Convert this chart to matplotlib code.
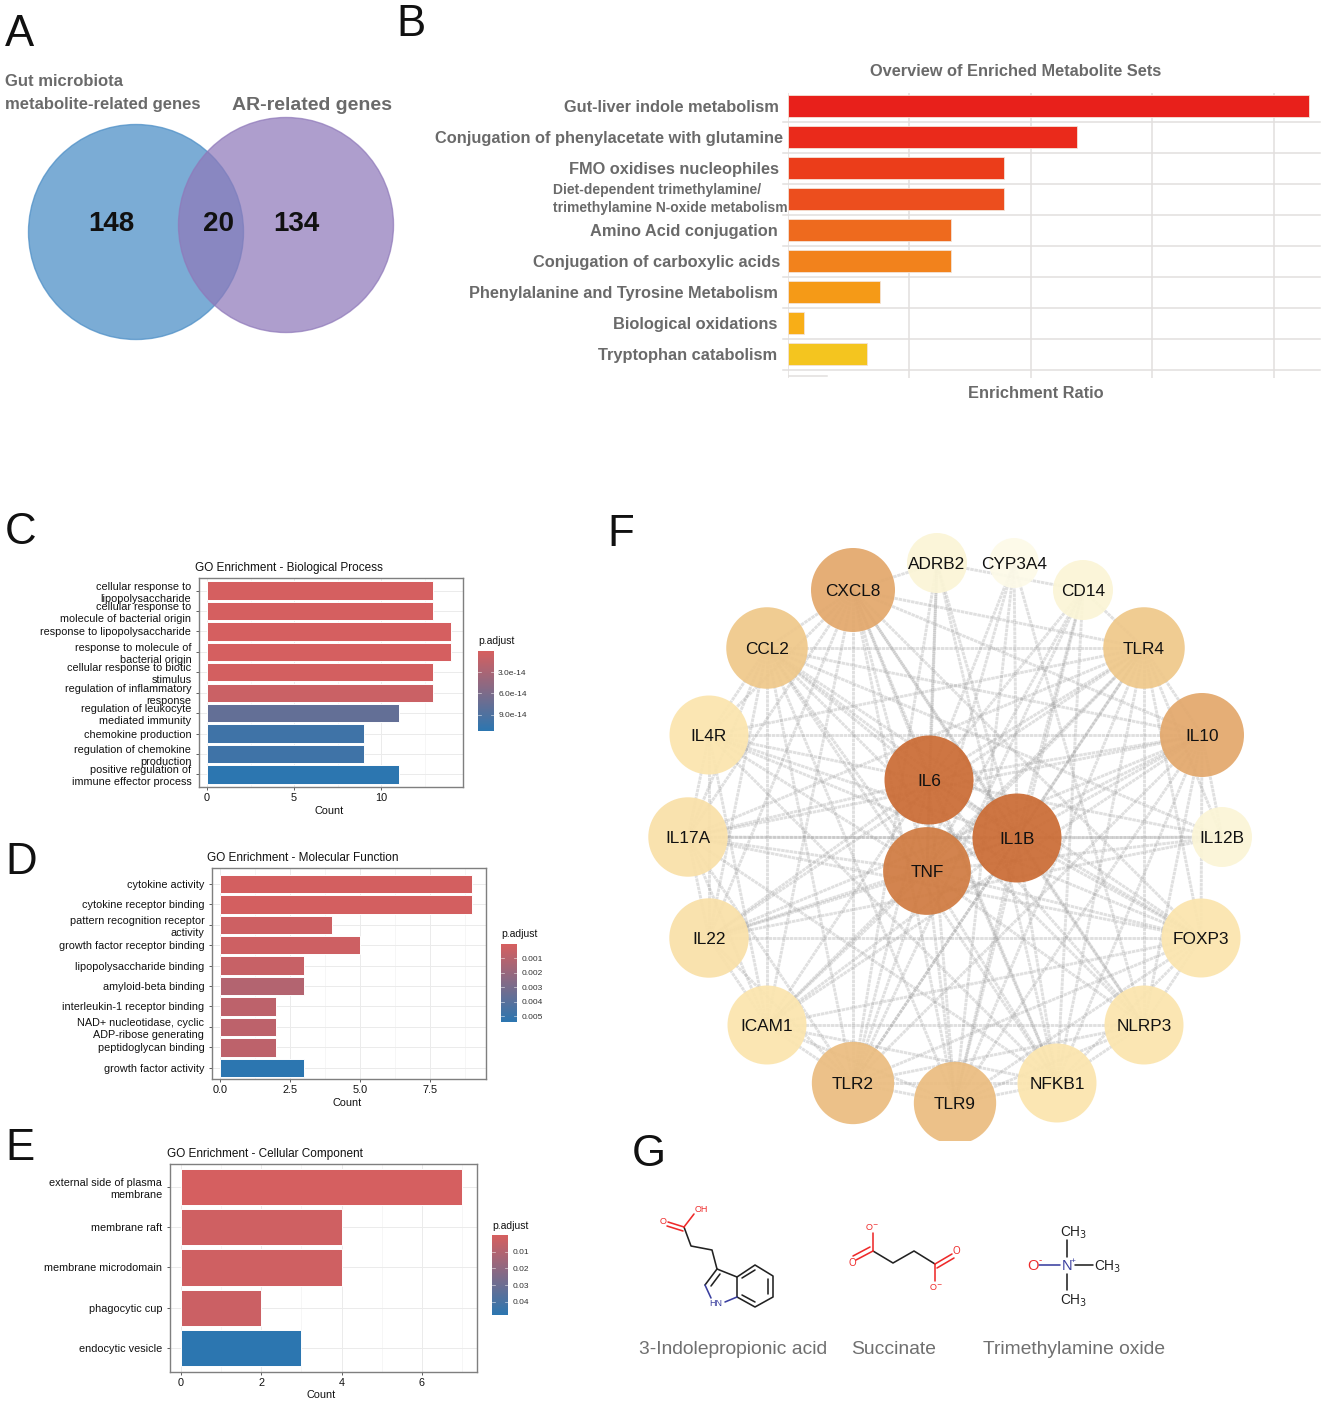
import numpy as np
import matplotlib
matplotlib.use('Agg')
import matplotlib.pyplot as plt
from matplotlib.patches import Circle
from matplotlib.collections import LineCollection
from matplotlib.colors import LinearSegmentedColormap, Normalize
from matplotlib.cm import ScalarMappable

plt.rcParams['font.family'] = ['Liberation Sans', 'DejaVu Sans']

W, H = 1325, 1404

# panel B
msea_sets = ['Gut-liver indole metabolism', 'Conjugation of phenylacetate with glutamine',
             'FMO oxidises nucleophiles',
             'Diet-dependent trimethylamine/\ntrimethylamine N-oxide metabolism',
             'Amino Acid conjugation', 'Conjugation of carboxylic acids',
             'Phenylalanine and Tyrosine Metabolism', 'Biological oxidations',
             'Tryptophan catabolism']
msea_ratio = [42.9, 23.8, 17.8, 17.8, 13.4, 13.4, 7.6, 1.3, 6.5]
msea_colors = ['#E8201B', '#EA2A1B', '#EB3D1A', '#EC4E1E', '#EE6A1E',
               '#F2821C', '#F59A17', '#F8AE17', '#F4C51F']

# panel C
bp_terms = ['cellular response to\nlipopolysaccharide', 'cellular response to\nmolecule of bacterial origin',
            'response to lipopolysaccharide', 'response to molecule of\nbacterial origin',
            'cellular response to biotic\nstimulus', 'regulation of inflammatory\nresponse',
            'regulation of leukocyte\nmediated immunity', 'chemokine production',
            'regulation of chemokine\nproduction', 'positive regulation of\nimmune effector process']
bp_count = [13, 13, 14, 14, 13, 13, 11, 9, 9, 11]
bp_padj = [1e-15, 1e-15, 1e-15, 1e-15, 2e-15, 8e-15, 7.6e-14, 1.0e-13, 1.0e-13, 1.13e-13]

# panel D
mf_terms = ['cytokine activity', 'cytokine receptor binding', 'pattern recognition receptor\nactivity',
            'growth factor receptor binding', 'lipopolysaccharide binding', 'amyloid-beta binding',
            'interleukin-1 receptor binding', 'NAD+ nucleotidase, cyclic\nADP-ribose generating',
            'peptidoglycan binding', 'growth factor activity']
mf_count = [9, 9, 4, 5, 3, 3, 2, 2, 2, 3]
mf_padj = [1e-4, 1e-4, 3e-4, 3e-4, 5e-4, 1.1e-3, 8e-4, 8e-4, 8e-4, 5.4e-3]

# panel E
cc_terms = ['external side of plasma\nmembrane', 'membrane raft', 'membrane microdomain',
            'phagocytic cup', 'endocytic vesicle']
cc_count = [7, 4, 4, 2, 3]
cc_padj = [5e-4, 2e-3, 2e-3, 3e-3, 4.8e-2]

# panel F
genes = ['ADRB2', 'CYP3A4', 'CD14', 'TLR4', 'IL10', 'IL12B', 'FOXP3', 'NLRP3', 'NFKB1', 'TLR9',
         'TLR2', 'ICAM1', 'IL22', 'IL17A', 'IL4R', 'CCL2', 'CXCL8', 'IL6', 'IL1B', 'TNF']
gene_score = [4, 3, 4, 12, 15, 4, 9, 9, 9, 13, 13, 9, 9.5, 9.5, 9, 12, 15, 19, 19, 18]
gene_links = {
    'IL6': ['IL1B', 'TNF', 'CXCL8', 'CCL2', 'IL4R', 'IL17A', 'IL22', 'ICAM1', 'TLR2', 'TLR9', 'NFKB1',
            'NLRP3', 'FOXP3', 'IL12B', 'IL10', 'TLR4', 'CD14', 'ADRB2', 'CYP3A4'],
    'IL1B': ['TNF', 'CXCL8', 'CCL2', 'IL4R', 'IL17A', 'IL22', 'ICAM1', 'TLR2', 'TLR9', 'NFKB1',
             'NLRP3', 'FOXP3', 'IL12B', 'IL10', 'TLR4', 'CD14', 'ADRB2', 'CYP3A4'],
    'TNF': ['CXCL8', 'CCL2', 'IL4R', 'IL17A', 'IL22', 'ICAM1', 'TLR2', 'TLR9', 'NFKB1',
            'NLRP3', 'FOXP3', 'IL12B', 'IL10', 'TLR4', 'CD14', 'ADRB2', 'CYP3A4'],
    'CXCL8': ['CCL2', 'IL4R', 'IL17A', 'IL22', 'ICAM1', 'TLR2', 'TLR9', 'NFKB1', 'NLRP3', 'IL10', 'TLR4',
              'FOXP3', 'ADRB2'],
    'CCL2': ['IL4R', 'IL17A', 'IL22', 'ICAM1', 'TLR2', 'TLR9', 'NFKB1', 'NLRP3', 'FOXP3', 'IL10', 'TLR4',
             'IL12B'],
    'TLR4': ['CD14', 'IL10', 'IL12B', 'FOXP3', 'NLRP3', 'NFKB1', 'TLR9', 'TLR2', 'ICAM1', 'IL22', 'IL17A',
             'IL4R'],
    'IL10': ['IL12B', 'FOXP3', 'NLRP3', 'NFKB1', 'TLR9', 'TLR2', 'ICAM1', 'IL22', 'IL17A', 'IL4R'],
    'IL4R': ['IL17A', 'IL22', 'ICAM1', 'FOXP3', 'NFKB1'],
    'IL17A': ['IL22', 'ICAM1', 'TLR2', 'IL12B', 'FOXP3', 'NFKB1'],
    'IL22': ['ICAM1', 'FOXP3', 'IL12B', 'TLR2'],
    'ICAM1': ['TLR2', 'NLRP3', 'NFKB1', 'TLR9', 'FOXP3'],
    'TLR2': ['TLR9', 'NFKB1', 'NLRP3', 'CD14', 'FOXP3', 'ADRB2'],
    'TLR9': ['NFKB1', 'NLRP3', 'FOXP3', 'CD14', 'CYP3A4'],
    'NFKB1': ['NLRP3', 'FOXP3', 'CD14'],
    'NLRP3': ['FOXP3'],
    'ADRB2': ['CD14', 'NFKB1'],
    'CYP3A4': ['NLRP3'],
}

metabolites = ['3-Indolepropionic acid', 'Succinate', 'Trimethylamine oxide']


def px_axes(left, top, right, bottom, **kw):
    # axes placed by pixel edges of the figure
    return fig.add_axes([left / W, 1 - bottom / H, (right - left) / W, (bottom - top) / H], **kw)


fig = plt.figure(figsize=(W / 100, H / 100), dpi=100)

# background canvas in pixel coords for labels, venn and structures
canvas = px_axes(0, 0, W, H)
canvas.set_xlim(0, W)
canvas.set_ylim(H, 0)
canvas.axis('off')

for letter, x, y in [('A', 5, 34), ('B', 396, 24), ('C', 5, 533), ('D', 5, 862), ('E', 5, 1149),
                     ('F', 607, 534), ('G', 632, 1154)]:
    canvas.text(x, y, letter, fontsize=31.5, color='#111111', va='center', ha='left')

# panel A
canvas.add_patch(Circle((136, 232), 107.5, fc='#4F90C7', ec='#4F90C7', alpha=0.75, lw=1))
canvas.add_patch(Circle((286, 225), 107.5, fc='#8F79BA', ec='#8F79BA', alpha=0.72, lw=1))
GRAY = '#6a6a6a'
canvas.text(5, 81, 'Gut microbiota', fontsize=12, fontweight='bold', color=GRAY, va='center')
canvas.text(5, 105, 'metabolite-related genes', fontsize=12, fontweight='bold', color=GRAY, va='center')
canvas.text(232, 105, 'AR-related genes', fontsize=14, fontweight='bold', color=GRAY, va='center')
for txt, x in [('148', 111), ('20', 218), ('134', 296)]:
    canvas.text(x, 224, txt, fontsize=20, fontweight='bold', color='#111111', ha='center', va='center')

# panel B
axb = px_axes(788, 93, 1320, 378)
pos = np.arange(len(msea_sets))
axb.barh(pos, msea_ratio, height=0.68, color=msea_colors, edgecolor='#f3e3d8', lw=0.6, zorder=3)
axb.set_xlim(0, 43.8)
axb.set_ylim(8 + 24 / 31.0, -13 / 31.0)
axb.set_xticks([10, 20, 30, 40])
axb.set_yticks([])
axb.set_xticklabels([])
axb.tick_params(length=0)
for s in axb.spines.values():
    s.set_visible(False)
axb.grid(axis='x', color='#e2dfde', lw=1.1, zorder=0)
axb.axvline(0, color='#e2dfde', lw=1.1, zorder=0)
for i in pos:
    axb.plot([-0.4, 43.8], [i + 0.5, i + 0.5], color='#e2dfde', lw=1.1, zorder=1, clip_on=False)
axb.plot([0, 3.2], [8.72, 8.72], color='#e2dfde', lw=1.1)
gaps = [9, 5, 9, None, 10, 8, 10, 11, 11]
for i, (name, gap) in enumerate(zip(msea_sets, gaps)):
    if gap is None:
        axb.annotate(name, (0, i), xytext=(-235 * 0.72, 0), textcoords='offset points', ha='left',
                     va='center', fontsize=10, fontweight='bold', color=GRAY, linespacing=1.45,
                     annotation_clip=False)
    else:
        axb.annotate(name, (0, i), xytext=(-gap * 0.72, -1), textcoords='offset points', ha='right',
                     va='center', fontsize=11.75, fontweight='bold', color=GRAY, annotation_clip=False)
canvas.text(1016, 71, 'Overview of Enriched Metabolite Sets', fontsize=11.75, fontweight='bold', color=GRAY,
            ha='center', va='center')
canvas.text(1036, 393, 'Enrichment Ratio', fontsize=11.75, fontweight='bold', color=GRAY, ha='center', va='center')

# panels C, D, E
padj_cmap = LinearSegmentedColormap.from_list('padj', ['#D65F5F', '#2C76B0'])


def go_panel(box, terms, count, padj, title, title_x, xlim, xticks, xticklabels, minor, height, ylim,
             cbox, norm, cticks, cticklabels, legend_xy, xlabel_y):
    ax = px_axes(*box)
    y = np.arange(len(terms))
    ax.barh(y, count, height=height, color=padj_cmap(norm(padj)), edgecolor='white', lw=0.7, zorder=3)
    ax.set_yticks(y)
    ax.set_yticklabels(terms, fontsize=7.85, linespacing=1.25, color='#111111')
    ax.set_xticks(xticks)
    ax.set_xticklabels(xticklabels, fontsize=7.85, color='#111111')
    ax.set_xticks(minor, minor=True)
    ax.set_xlim(*xlim)
    ax.set_ylim(*ylim)
    ax.tick_params(axis='y', length=2, width=0.6, pad=3.5, color='#444444')
    ax.tick_params(axis='x', length=2, width=0.6, pad=2, color='#444444')
    ax.tick_params(axis='x', which='minor', length=0)
    ax.grid(True, which='major', color='#ebebeb', lw=0.7, zorder=0)
    ax.grid(True, which='minor', axis='x', color='#f3f3f3', lw=0.5, zorder=0)
    for s in ax.spines.values():
        s.set_color('#7f7f7f')
        s.set_linewidth(1.0)
    canvas.text(title_x, box[1] - 10, title, fontsize=8.5, color='#111111', ha='left', va='center')
    canvas.text((box[0] + box[2]) / 2 - 2, xlabel_y + 1, 'Count', fontsize=7.85, color='#111111', ha='center', va='center')
    # colourbar
    cax = px_axes(*cbox)
    cb = fig.colorbar(ScalarMappable(norm=norm, cmap=padj_cmap), cax=cax)
    cb.set_ticks(cticks)
    cb.set_ticklabels(cticklabels)
    cb.ax.invert_yaxis()
    cb.ax.tick_params(labelsize=6, length=0, pad=3, labelcolor='#333333')
    cb.outline.set_visible(False)
    for t in cticks:
        cb.ax.plot([0, 0.2], [t, t], color='white', lw=0.5, alpha=0.7, transform=cb.ax.get_yaxis_transform())
        cb.ax.plot([0.8, 1], [t, t], color='white', lw=0.5, alpha=0.7, transform=cb.ax.get_yaxis_transform())
    canvas.text(legend_xy[0], legend_xy[1], 'p.adjust', fontsize=7.5, color='#111111', ha='left', va='center')


go_panel((199, 578, 463, 787), bp_terms, bp_count, bp_padj, 'GO Enrichment - Biological Process', 195,
         (-0.46, 14.7), [0, 5, 10], ['0', '5', '10'], [2.5, 7.5, 12.5], 0.9, (9.62, -0.62),
         (478, 651, 494, 731), Normalize(0, 1.13e-13), [3e-14, 6e-14, 9e-14], ['3.0e-14', '6.0e-14', '9.0e-14'],
         (478, 641), 810)
go_panel((212, 868, 486, 1079), mf_terms, mf_count, mf_padj, 'GO Enrichment - Molecular Function', 207,
         (-0.28, 9.5), [0, 2.5, 5, 7.5], ['0.0', '2.5', '5.0', '7.5'], [1.25, 3.75, 6.25, 8.75], 0.9, (9.55, -0.78),
         (501, 944, 517, 1022), Normalize(0, 5.4e-3), [0.001, 0.002, 0.003, 0.004, 0.005],
         ['0.001', '0.002', '0.003', '0.004', '0.005'], (501, 934), 1102)
go_panel((170, 1164, 477, 1372), cc_terms, cc_count, cc_padj, 'GO Enrichment - Cellular Component', 167,
         (-0.27, 7.37), [0, 2, 4, 6], ['0', '2', '4', '6'], [1, 3, 5, 7], 0.9, (4.6, -0.57),
         (492, 1235, 508, 1315), Normalize(0, 4.8e-2), [0.01, 0.02, 0.03, 0.04],
         ['0.01', '0.02', '0.03', '0.04'], (492, 1226), 1394)

# panel F, node layout in pixel coords
net_x = [937, 1014, 1083, 1144, 1202, 1222, 1201, 1144, 1057, 955, 853, 767, 709, 688, 709, 767, 853, 929, 1017, 927]
net_y = [563, 563, 590, 648, 735, 837, 938, 1025, 1083, 1103, 1083, 1025, 938, 837, 735, 648, 590, 780, 838, 871]
where = {g: (x, y) for g, x, y in zip(genes, net_x, net_y)}

axf = px_axes(640, 525, 1265, 1141)
axf.set_xlim(640, 1265)
axf.set_ylim(1141, 525)
axf.axis('off')
segs = [(where[a], where[b]) for a, others in gene_links.items() for b in others]
axf.add_collection(LineCollection(segs, colors='#9a9a9a', linewidths=2.1, alpha=0.3,
                                  linestyles=[(0, (1.2, 0.25))], zorder=1))
node_cmap = LinearSegmentedColormap.from_list('nodes', [(0, '#FDFAE8'), (1 / 16, '#FBF5D6'), (6 / 16, '#FBE5AE'),
                                                        (9 / 16, '#EFC88A'), (12 / 16, '#E3A96D'),
                                                        (15 / 16, '#D07C42'), (1, '#CB6C35')])
for g, s in zip(genes, gene_score):
    r = np.interp(s, [3, 4, 9, 15, 19], [25, 30, 39.5, 42, 44.5])
    axf.add_patch(Circle(where[g], r, fc=node_cmap((s - 3) / 16), ec='none', alpha=0.93, zorder=2))
    axf.text(where[g][0], where[g][1] + 1.5, g, fontsize=12.4, color='#111111', ha='center', va='center', zorder=3)

# panel G, structures drawn as plain line work
INK, RED, BLUE = '#222222', '#EE2A2A', '#3A3F9F'


def bonds(points, color=INK, lw=1.15):
    canvas.plot(*zip(*points), color=color, lw=lw, solid_capstyle='round')


bonds([(684, 1227), (691, 1246), (712, 1250), (717, 1269), (737, 1277), (737, 1297)])
bonds([(737, 1277), (755, 1265), (773, 1276), (773, 1297), (755, 1307), (737, 1297)])
bonds([(717, 1269), (705, 1285)])
bonds([(720, 1274), (711, 1286)])
bonds([(742, 1278), (755, 1270)])
bonds([(768, 1279), (768, 1294)])
bonds([(755, 1302), (742, 1295)])
bonds([(737, 1297), (725, 1302)], BLUE)
bonds([(705, 1285), (711, 1298)], BLUE)
bonds([(684, 1227), (668, 1222)], RED)
bonds([(683, 1231), (667, 1226)], RED)
bonds([(684, 1227), (694, 1214)], RED)
canvas.text(663, 1221, 'O', fontsize=6.5, color=RED, ha='center', va='center')
canvas.text(701, 1209.5, 'OH', fontsize=6.5, color=RED, ha='center', va='center')
canvas.text(716, 1303.5, 'HN', fontsize=6.5, color=BLUE, ha='center', va='center')

bonds([(873, 1251), (893, 1263), (914, 1251), (935, 1264)])
bonds([(873, 1233), (873, 1251)], RED)
bonds([(873, 1251), (856, 1260)], RED)
bonds([(870, 1247), (853, 1256)], RED)
bonds([(935, 1264), (952, 1254)], RED)
bonds([(937, 1268), (954, 1258)], RED)
bonds([(935, 1264), (935, 1281)], RED)
canvas.text(872, 1227, 'O$^{-}$', fontsize=6.5, color=RED, ha='center', va='center')
canvas.text(852, 1263, 'O', fontsize=7, color=RED, ha='center', va='center')
canvas.text(956, 1251, 'O', fontsize=7, color=RED, ha='center', va='center')
canvas.text(936, 1287, 'O$^{-}$', fontsize=6.5, color=RED, ha='center', va='center')

bonds([(1067, 1240), (1067, 1257)], INK)
bonds([(1067, 1274), (1067, 1290)], INK)
bonds([(1075, 1265), (1093, 1265)], INK)
bonds([(1039, 1265), (1060, 1265)], BLUE)
canvas.text(1033, 1266, 'O', fontsize=10.5, color=RED, ha='center', va='center')
canvas.text(1040, 1260, '-', fontsize=7, color=RED, ha='center', va='center')
canvas.text(1067, 1266, 'N', fontsize=10.5, color=BLUE, ha='center', va='center')
canvas.text(1073, 1261, '+', fontsize=6, color=BLUE, ha='center', va='center')
canvas.text(1074, 1233, 'CH$_3$', fontsize=9.8, color=INK, ha='center', va='center')
canvas.text(1108, 1267, 'CH$_3$', fontsize=9.8, color=INK, ha='center', va='center')
canvas.text(1074, 1301, 'CH$_3$', fontsize=9.8, color=INK, ha='center', va='center')

for name, x in zip(metabolites, [639, 851, 983]):
    canvas.text(x, 1350, name, fontsize=13.9, color='#707070', ha='left', va='center')

plt.savefig('out.png', dpi=100)
